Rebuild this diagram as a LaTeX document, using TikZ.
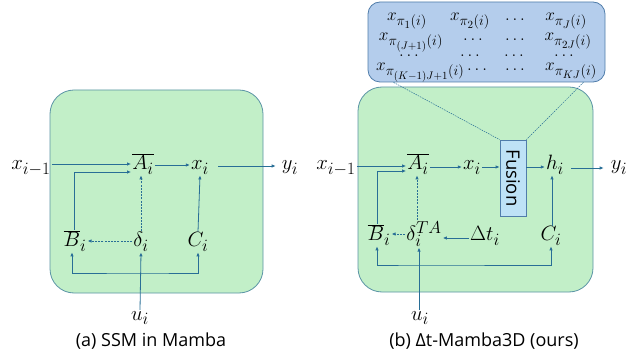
\documentclass[tikz,border=0pt]{standalone}
\usepackage{fontspec}
\setsansfont{Open Sans}
\usetikzlibrary{arrows.meta}
\DeclareMathSizes{22}{22}{16}{12}
\DeclareMathSizes{18}{18}{13.5}{10.5}
\definecolor{gfill}{RGB}{194,239,200}
\definecolor{gdraw}{RGB}{90,148,165}
\definecolor{acol}{RGB}{40,110,150}
\definecolor{bfill}{RGB}{180,205,236}
\definecolor{ffill}{RGB}{190,226,246}
\definecolor{bdraw}{RGB}{80,125,170}
\begin{document}
\begin{tikzpicture}[x=1pt,y=-1pt,
  lbl/.style={inner sep=1pt, anchor=base, font=\fontsize{22}{24}\selectfont},
  ml/.style={inner sep=0pt, anchor=base, font=\fontsize{18}{20}\selectfont},
  arr/.style={draw=acol, line width=0.8pt, -{Latex[length=4pt,width=3.5pt]}},
  dsh/.style={arr, dash pattern=on 2pt off 1.2pt},
  panel/.style={draw=gdraw, fill=gfill, line width=0.8pt, rounded corners=24pt},
  captxt/.style={font=\sffamily\fontsize{18}{20}\selectfont, inner sep=0pt, anchor=base}]
\useasboundingbox (0,0) rectangle (628,352);

% ---------- left panel ----------
\draw[panel] (50,90) rectangle (263,293);
\node[lbl] (xim1) at (31,170) {$x_{i-1}$};
\node[lbl] (A) at (143,170) {$\overline{A_i}$};
\node[lbl] (xi) at (200,170) {$x_i$};
\node[lbl] (yi) at (290,170) {$y_i$};
\node[lbl] (B) at (75,247) {$\overline{B}_i$};
\node[lbl] (d) at (141,247) {$\delta_i$};
\node[lbl] (C) at (198,247) {$C_i$};
\node[lbl] (u) at (140,320) {$u_i$};
\coordinate (j) at (140,273);

\draw[arr] (xim1.east |- 0,164) -- (A.west |- 0,164);
\draw[arr] (B.north -| 74,0) |- (A.west |- 0,172);
\draw[dsh] (d.north) -- (d.north |- A.south);
\draw[dsh] (d.west |- 0,241) -- (B.east |- 0,241);
\draw[arr] (A.east |- 0,165) -- (xi.west |- 0,165);
\draw[arr] (xi.east |- 0,166) ++(8,0) -- ([xshift=-5pt]yi.west |- 0,166);
\draw[arr] (C.north) -- (xi.south);
\draw[arr] (u.north) -- (d.south);
\draw[arr, {Latex[length=4pt,width=3.5pt]}-{Latex[length=4pt,width=3.5pt]}] (B.south -| 72,0) |- (j) -| (C.south);

% ---------- right panel ----------
\draw[panel] (358,87) rectangle (593,292);
\node[draw=bdraw, fill=bfill, line width=0.8pt, rounded corners=12pt, minimum width=237pt, minimum height=80pt, inner sep=0pt] (mat) at (486.5,42) {};

\node[lbl] (xim1b) at (336,170) {$x_{i-1}$};
\node[lbl] (Ab) at (418,170) {$\overline{A_i}$};
\node[lbl] (xib) at (472,170) {$x_i$};
\node[draw=bdraw, fill=ffill, line width=0.8pt, minimum width=26pt, minimum height=76pt, inner sep=0pt] (fus) at (513,178) {};
\node[font=\sffamily\fontsize{18.5}{20}\selectfont, rotate=-90, inner sep=0pt] (fustxt) at (fus.center) {Fusion};
\node[lbl] (hib) at (555,170) {$h_i$};
\node[lbl] (yib) at (619,170) {$y_i$};
\node[lbl] (Bb) at (379,241) {$\overline{B}_i$};
\node[lbl] (db) at (424,241) {$\delta_i^{TA}$};
\node[lbl] (dtb) at (485,241) {$\Delta t_i$};
\node[lbl] (Cb) at (551,241) {$C_i$};
\node[lbl] (ub) at (420,320) {$u_i$};
\coordinate (jb) at (419,265);

\draw[arr] (xim1b.east |- 0,166) -- (Ab.west |- 0,166);
\draw[arr] (Bb.north -| 377,0) |- (Ab.west |- 0,171);
\draw[dsh] (db.north -| 417,0) -- (Ab.south -| 417,0);
\draw[dsh] (db.west |- 0,234) -- (Bb.east |- 0,234);
\draw[arr] (dtb.west |- 0,238) -- (db.east |- 0,238);
\draw[arr] (Ab.east |- 0,167) -- (xib.west |- 0,167);
\draw[arr] (xib.east |- 0,167) -- (fus.west |- 0,167);
\draw[arr] (fus.east |- 0,167) -- (hib.west |- 0,167);
\draw[arr] (hib.east |- 0,168) ++(6,0) -- ([xshift=-6pt]yib.west |- 0,168);
\draw[arr] (Cb.north -| 552,0) -- (hib.south -| 552,0);
\draw[arr] (ub.north -| 419,0) -- (db.south -| 419,0);
\draw[arr, {Latex[length=4pt,width=3.5pt]}-{Latex[length=4pt,width=3.5pt]}] (Bb.south -| 377,0) |- (jb) -| (Cb.south -| 551,0);

\draw[acol, line width=0.5pt, dash pattern=on 1.5pt off 1pt] ([xshift=26pt]mat.south west) -- (fus.north west);
\draw[acol, line width=0.5pt, dash pattern=on 1.5pt off 1pt] ([xshift=-22pt]mat.south east) -- (fus.north east);

% matrix entries
\node[ml] (m11) at (407,21) {$x_{\pi_1(i)}$};
\node[ml] (m12) at (470,21) {$x_{\pi_2(i)}$};
\node[ml] (m13) at (515,21) {$\dots$};
\node[ml] (m14) at (566,21) {$x_{\pi_J(i)}$};
\node[ml] (m21) at (411,41) {$x_{\pi_{(J+1)}(i)}$};
\node[ml] (m22) at (473,41) {$\dots$};
\node[ml] (m23) at (515,41) {$\dots$};
\node[ml] (m24) at (568,41) {$x_{\pi_{2J}(i)}$};
\node[ml] (m31) at (409,57) {$\dots$};
\node[ml] (m32) at (470,57) {$\dots$};
\node[ml] (m33) at (514,57) {$\dots$};
\node[ml] (m34) at (564,57) {$\dots$};
\node[ml, anchor=base west] (m41) at (376,71) {$x_{\pi_{(K-1)J+1}(i)}\dots$};
\node[ml] (m43) at (515,71) {$\dots$};
\node[ml] (m44) at (571,71) {$x_{\pi_{KJ}(i)}$};

% captions
\node[captxt] (capa) at (151,346) {(a) SSM in Mamba};
\node[captxt] (capb) at (484,346) {(b) Δt-Mamba3D (ours)};
\end{tikzpicture}
\end{document}
